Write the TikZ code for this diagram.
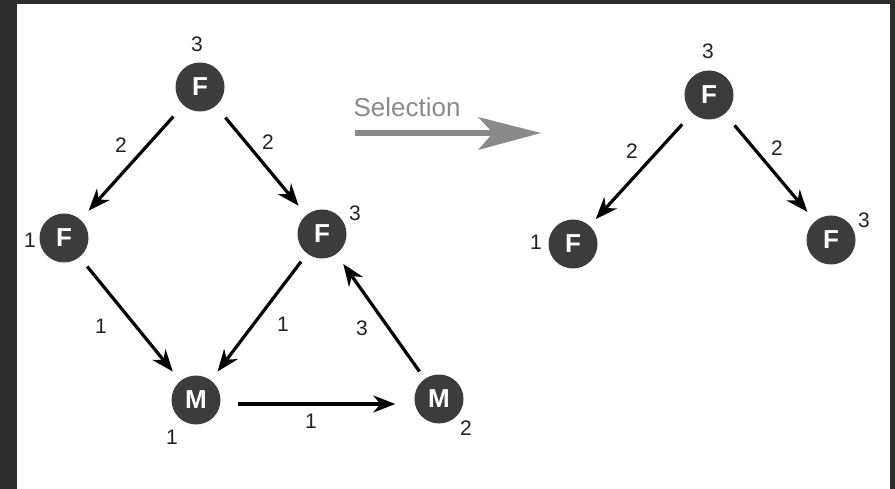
\documentclass[tikz,border=0pt]{standalone}
\usepackage{fontspec}
\setmainfont{Liberation Sans}
\usetikzlibrary{arrows.meta}
\definecolor{frame}{HTML}{2D2D2D}
\definecolor{nodefill}{HTML}{3C3C3C}
\definecolor{selgray}{HTML}{8A8A8A}
\definecolor{lblcol}{HTML}{222222}
\begin{document}
\begin{tikzpicture}[x=1pt,y=-1pt,
  vtx/.style={circle,fill=nodefill,minimum size=49pt,inner sep=0pt,text=white,font=\fontsize{26}{26}\selectfont\bfseries},
  lbl/.style={font=\fontsize{21}{21}\selectfont,inner sep=0pt,text=lblcol},
  edge/.style={line width=3.2pt,-{Stealth[length=22pt,width=17pt,inset=7pt]}},
]
\useasboundingbox (0,0) rectangle (895,489);
\fill[frame] (0,0) rectangle (895,489);
\fill[white] (17,4) rectangle (890,489);

% left graph
\node[vtx] (f1) at (200,87) {F};
\node[vtx] (f2) at (64,238) {F};
\node[vtx] (f3) at (322,234) {F};
\node[vtx] (m1) at (196,400) {M};
\node[vtx] (m2) at (439,399) {M};

\node[lbl] (l1) at (197,44) {3};
\node[lbl] (l2) at (121,145) {2};
\node[lbl] (l3) at (268,142) {2};
\node[lbl] (l4) at (30,240) {1};
\node[lbl] (l5) at (355,213) {3};
\node[lbl] (l6) at (101,326) {1};
\node[lbl] (l7) at (283,324) {1};
\node[lbl] (l8) at (362,328) {3};
\node[lbl] (l9) at (172,437) {1};
\node[lbl] (l10) at (311,421) {1};
\node[lbl] (l11) at (466,428) {2};

\draw[edge,shorten <=15pt,shorten >=12pt] (f1) -- (f2);
\draw[edge,shorten <=15pt,shorten >=12pt] (f1) -- (f3);
\draw[edge,shorten <=12pt,shorten >=12pt] (f2) -- (m1);
\draw[edge,shorten <=10pt,shorten >=11pt] (f3) -- (m1);
\draw[edge] ([shift={(17,4)}]m1.east) -- ([shift={(-19,5)}]m2.west);
\draw[edge,shorten <=9pt,shorten >=12pt] (m2) -- (f3);

% selection arrow
\node[font=\fontsize{26}{26}\selectfont,text=selgray,inner sep=0pt] (sel) at (407,107) {Selection};
\fill[selgray] (355,130) rectangle (495,136.5);
\fill[selgray] (478,117) -- (541,133) -- (478,150) -- (493,133) -- cycle;

% right tree
\node[vtx] (g1) at (709,95) {F};
\node[vtx] (g2) at (573,244) {F};
\node[vtx] (g3) at (831,240) {F};
\node[lbl] (r1) at (708,51) {3};
\node[lbl] (r2) at (632,151) {2};
\node[lbl] (r3) at (777,148) {2};
\node[lbl] (r4) at (536,242) {1};
\node[lbl] (r5) at (864,220) {3};
\draw[edge,shorten <=15pt,shorten >=9pt] (g1) -- (g2);
\draw[edge,shorten <=15pt,shorten >=12pt] (g1) -- (g3);
\end{tikzpicture}
\end{document}
